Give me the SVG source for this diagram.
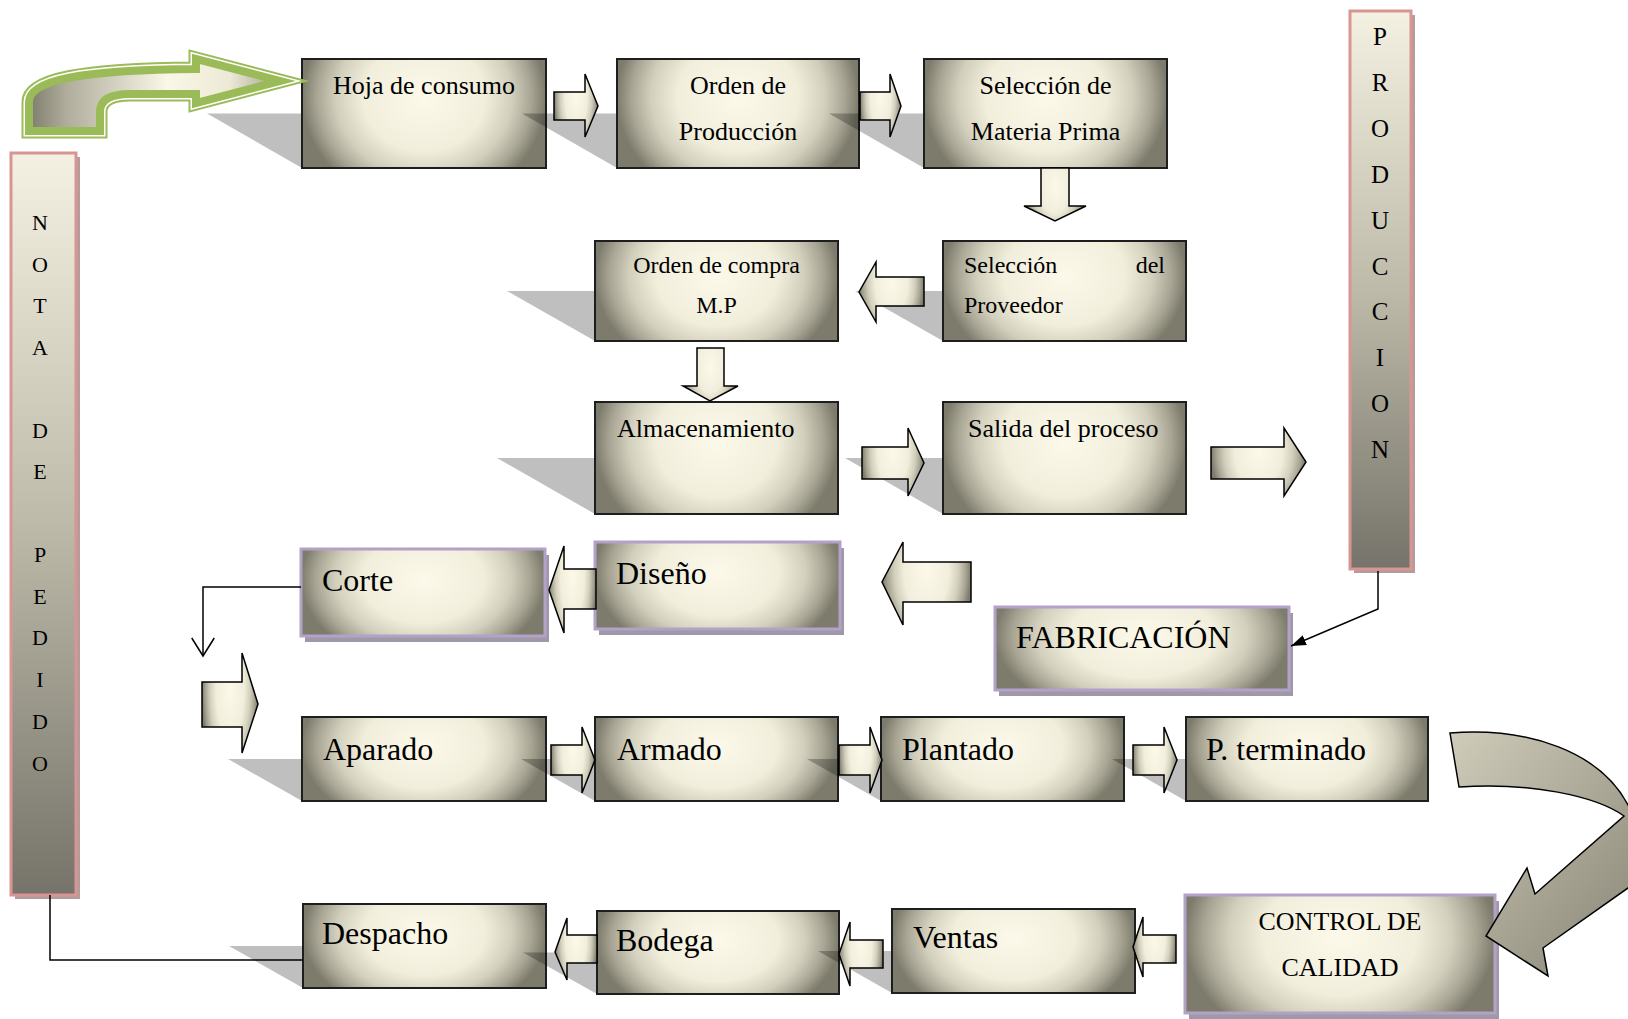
<svg xmlns="http://www.w3.org/2000/svg" width="1628" height="1019" viewBox="0 0 1628 1019">
<style>
.box{fill:url(#gBox);stroke:#1e1e1e;stroke-width:2}
.pbox{fill:url(#gBox);stroke:#b3a2c7;stroke-width:3}
.sh{fill:#000;fill-opacity:0.25}
.psh{fill:#9f98a9}
.arr{fill:url(#gBox);stroke:#000;stroke-width:1.5;stroke-linejoin:miter}
.bar{fill:url(#gBar);stroke:#d99594;stroke-width:3}
.barsh{fill:#b49b9c}
.ln{fill:none;stroke:#000;stroke-width:1.5}
text{font-family:"Liberation Serif","Times New Roman",serif;fill:#000}
.t22{font-size:22px}.t24{font-size:24px}.t25{font-size:25px}.t26{font-size:26px}.t32{font-size:32px}
.c{text-anchor:middle}
</style>
<defs>
<radialGradient id="gBox" cx="0.5" cy="0.35" r="0.5" gradientTransform="translate(0.5 0.35) scale(1 2) translate(-0.5 -0.35)">
<stop offset="0" stop-color="#fcf9ea"/>
<stop offset="0.5" stop-color="#f1eedc"/>
<stop offset="0.72" stop-color="#d2cfbd"/>
<stop offset="0.88" stop-color="#a8a594"/>
<stop offset="1" stop-color="#7d7b6c"/>
</radialGradient>
<linearGradient id="gBar" x1="0" y1="0" x2="0" y2="1">
<stop offset="0" stop-color="#f4f1e2"/>
<stop offset="0.5" stop-color="#bdbaa9"/>
<stop offset="1" stop-color="#76746a"/>
</linearGradient>
<linearGradient id="gGreen" x1="0" y1="0" x2="1" y2="0">
<stop offset="0" stop-color="#7e7c6c"/>
<stop offset="0.15" stop-color="#b0ad9c"/>
<stop offset="0.55" stop-color="#faf7e6"/>
<stop offset="0.8" stop-color="#ece9d6"/>
<stop offset="1" stop-color="#a09d8c"/>
</linearGradient>
<linearGradient id="gCurve" x1="0" y1="0" x2="1" y2="1">
<stop offset="0" stop-color="#cfccba"/>
<stop offset="0.6" stop-color="#a3a090"/>
<stop offset="1" stop-color="#858374"/>
</linearGradient>
<marker id="mFill" viewBox="0 0 10 7" refX="10" refY="3.5" markerWidth="10" markerHeight="7" orient="auto" markerUnits="strokeWidth">
<path d="M0,0 L10,3.5 L0,7 Z" fill="#000"/>
</marker>
<marker id="mOpen" viewBox="0 0 12 15" refX="12" refY="7.5" markerWidth="12" markerHeight="15" orient="auto" markerUnits="strokeWidth" overflow="visible">
<path d="M0,0 L12,7.5 L0,15" fill="none" stroke="#000" stroke-width="1"/>
</marker>
</defs>

<rect width="1628" height="1019" fill="#fff"/>

<g id="nodes">
<g id="n-nota">
<rect class="barsh" x="15" y="157" width="65" height="742"/>
<rect class="bar" x="11" y="153" width="65" height="742"/>
<text class="t22 c" x="40" y="230">N</text>
<text class="t22 c" x="40" y="272">O</text>
<text class="t22 c" x="40" y="313">T</text>
<text class="t22 c" x="40" y="355">A</text>
<text class="t22 c" x="40" y="438">D</text>
<text class="t22 c" x="40" y="479">E</text>
<text class="t22 c" x="40" y="562">P</text>
<text class="t22 c" x="40" y="604">E</text>
<text class="t22 c" x="40" y="645">D</text>
<text class="t22 c" x="40" y="687">I</text>
<text class="t22 c" x="40" y="729">D</text>
<text class="t22 c" x="40" y="771">O</text>
</g>
<g id="n-produccion">
<rect class="barsh" x="1354" y="15" width="61" height="558"/>
<rect class="bar" x="1350" y="11" width="61" height="558"/>
<text class="t25 c" x="1380" y="45">P</text>
<text class="t25 c" x="1380" y="91">R</text>
<text class="t25 c" x="1380" y="137">O</text>
<text class="t25 c" x="1380" y="183">D</text>
<text class="t25 c" x="1380" y="229">U</text>
<text class="t25 c" x="1380" y="275">C</text>
<text class="t25 c" x="1380" y="320">C</text>
<text class="t25 c" x="1380" y="366">I</text>
<text class="t25 c" x="1380" y="412">O</text>
<text class="t25 c" x="1380" y="458">N</text>
</g>

<g id="n-hoja">
<polygon class="sh" points="207,113.5 451,113.5 546,168 302,168"/>
<rect class="box" x="302" y="59" width="244" height="109"/>
<text class="t26 c" x="424" y="94">Hoja de consumo</text>
</g>
<g id="n-orden-produccion">
<polygon class="sh" points="522,113.5 764,113.5 859,168 617,168"/>
<rect class="box" x="617" y="59" width="242" height="109"/>
<text class="t26 c" x="738" y="94">Orden de</text>
<text class="t26 c" x="738" y="140">Producción</text>
</g>
<g id="n-seleccion-mp">
<polygon class="sh" points="829,113.5 1072,113.5 1167,168 924,168"/>
<rect class="box" x="924" y="59" width="243" height="109"/>
<text class="t26 c" x="1045.5" y="94">Selección de</text>
<text class="t26 c" x="1045.5" y="140">Materia Prima</text>
</g>
<g id="n-orden-compra">
<polygon class="sh" points="507,291 750,291 838,341 595,341"/>
<rect class="box" x="595" y="241" width="243" height="100"/>
<text class="t24 c" x="716.5" y="273">Orden de compra</text>
<text class="t24 c" x="716.5" y="313">M.P</text>
</g>
<g id="n-seleccion-proveedor">
<polygon class="sh" points="855,291 1098,291 1186,341 943,341"/>
<rect class="box" x="943" y="241" width="243" height="100"/>
<text class="t24" x="964" y="273">Selección</text>
<text class="t24" x="1165" y="273" text-anchor="end">del</text>
<text class="t24" x="964" y="313">Proveedor</text>
</g>
<g id="n-almacenamiento">
<polygon class="sh" points="497,458 740,458 838,514 595,514"/>
<rect class="box" x="595" y="402" width="243" height="112"/>
<text class="t26" x="617" y="437">Almacenamiento</text>
</g>
<g id="n-salida">
<polygon class="sh" points="845,458 1088,458 1186,514 943,514"/>
<rect class="box" x="943" y="402" width="243" height="112"/>
<text class="t26" x="968" y="437">Salida del proceso</text>
</g>
<g id="n-corte">
<rect class="psh" x="305" y="555" width="244" height="87"/>
<rect class="pbox" x="301" y="549" width="244" height="87"/>
<text class="t32" x="322" y="591">Corte</text>
</g>
<g id="n-diseno">
<rect class="psh" x="599" y="548" width="245" height="87"/>
<rect class="pbox" x="595" y="542" width="245" height="87"/>
<text class="t32" x="616" y="584">Diseño</text>
</g>
<g id="n-fabricacion">
<rect class="psh" x="999" y="613" width="294" height="83"/>
<rect class="pbox" x="995" y="607" width="294" height="83"/>
<text class="t32" x="1016" y="648">FABRICACIÓN</text>
</g>
<g id="n-aparado">
<polygon class="sh" points="228,759 472,759 546,801 302,801"/>
<rect class="box" x="302" y="717" width="244" height="84"/>
<text class="t32" x="323" y="760">Aparado</text>
</g>
<g id="n-armado">
<polygon class="sh" points="521,759 764,759 838,801 595,801"/>
<rect class="box" x="595" y="717" width="243" height="84"/>
<text class="t32" x="617" y="760">Armado</text>
</g>
<g id="n-plantado">
<polygon class="sh" points="807,759 1050,759 1124,801 881,801"/>
<rect class="box" x="881" y="717" width="243" height="84"/>
<text class="t32" x="902" y="760">Plantado</text>
</g>
<g id="n-p-terminado">
<polygon class="sh" points="1112,759 1354,759 1428,801 1186,801"/>
<rect class="box" x="1186" y="717" width="242" height="84"/>
<text class="t32" x="1206" y="760">P. terminado</text>
</g>
<g id="n-control">
<rect class="psh" x="1189" y="901" width="310" height="118"/>
<rect class="pbox" x="1185" y="895" width="310" height="118"/>
<text class="t26 c" x="1340" y="930">CONTROL DE</text>
<text class="t26 c" x="1340" y="976">CALIDAD</text>
</g>
<g id="n-despacho">
<polygon class="sh" points="229,946 472,946 546,988 303,988"/>
<rect class="box" x="303" y="904" width="243" height="84"/>
<text class="t32" x="322" y="944">Despacho</text>
</g>
<g id="n-bodega">
<polygon class="sh" points="523,952.5 765,952.5 839,994 597,994"/>
<rect class="box" x="597" y="911" width="242" height="83"/>
<text class="t32" x="616" y="951">Bodega</text>
</g>
<g id="n-ventas">
<polygon class="sh" points="818,951 1061,951 1135,993 892,993"/>
<rect class="box" x="892" y="909" width="243" height="84"/>
<text class="t32" x="913" y="948">Ventas</text>
</g>
</g>

<g id="connectors">
<g id="c-green">
<path d="M29,131 L29,102 C29,80 80,70 196,69 L196,59 L280,81 L196,103 L196,94 L130,94 C110,94 100,100 100,112 L100,131 Z" fill="none" stroke="#9bbb59" stroke-width="15" stroke-linejoin="miter"/>
<path d="M29,131 L29,102 C29,80 80,70 196,69 L196,59 L280,81 L196,103 L196,94 L130,94 C110,94 100,100 100,112 L100,131 Z" fill="none" stroke="#fff" stroke-width="11" stroke-linejoin="miter"/>
<path d="M29,131 L29,102 C29,80 80,70 196,69 L196,59 L280,81 L196,103 L196,94 L130,94 C110,94 100,100 100,112 L100,131 Z" fill="url(#gGreen)" stroke="#9bbb59" stroke-width="8" stroke-linejoin="miter"/>
</g>
<polygon class="arr" points="554,92 585,92 585,74 598,106 585,137 585,120 554,120"/>
<polygon class="arr" points="860,92 890,92 890,74 901,106 890,137 890,120 860,120"/>
<polygon class="arr" points="1041,168 1069,168 1069,206 1086,206 1055,221 1024,206 1041,206"/>
<polygon class="arr" points="924,277 876,277 876,262 859,292 876,322 876,306 924,306"/>
<polygon class="arr" points="697,348 724,348 724,386 738,386 710,401 683,386 697,386"/>
<polygon class="arr" points="862,447 908,447 908,428 924,463 908,496 908,479 862,479"/>
<polygon class="arr" points="1211,447 1284,447 1284,428 1306,462 1284,496 1284,479 1211,479"/>
<polygon class="arr" points="596,569 564,569 564,546 549,590 564,633 564,609 596,609"/>
<polygon class="arr" points="971,562 903,562 903,542 882,582 903,625 903,602 971,602"/>
<polygon class="arr" points="202,682 242,682 242,653 258,704 242,753 242,727 202,727"/>
<polygon class="arr" points="551,745 582,745 582,727 595,760 582,793 582,775 551,775"/>
<polygon class="arr" points="839,745 870,745 870,727 882,760 870,793 870,775 839,775"/>
<polygon class="arr" points="1133,745 1164,745 1164,727 1177,760 1164,793 1164,775 1133,775"/>
<polygon class="arr" points="1176,935 1143,935 1143,917 1133,947 1143,977 1143,963 1176,963"/>
<polygon class="arr" points="883,940 850,940 850,922 839,954 850,986 850,968 883,968"/>
<polygon class="arr" points="597,935 567,935 567,918 555,952 567,980 567,963 597,963"/>
<path d="M1450,733 C1530,727 1600,752 1628,805 C1660,860 1645,880 1628,888 L1543,948 L1548,976 L1486,936 L1527,868 L1535,894 L1624,816 C1596,796 1530,782 1459,787 Z" fill="url(#gCurve)" stroke="#000" stroke-width="1.5" stroke-linejoin="miter"/>
<path class="ln" d="M1378,571 L1378,609 L1291,646" marker-end="url(#mFill)"/>
<path class="ln" d="M301,587 L203,587 L203,656" marker-end="url(#mOpen)"/>
<path class="ln" d="M50,895 L50,960 L303,960"/>
</g>
</svg>
